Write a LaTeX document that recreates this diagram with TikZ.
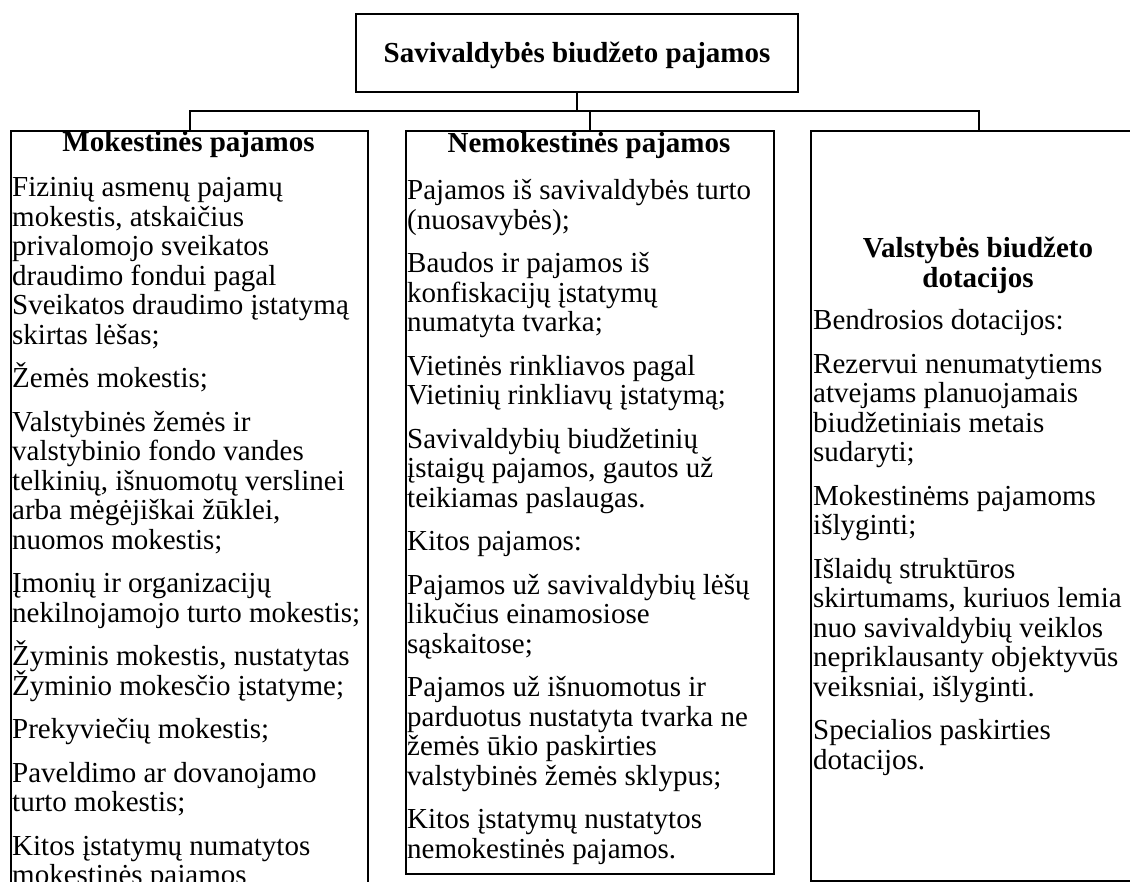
\documentclass[tikz,border=0pt]{standalone}
\usepackage{fontspec}
\setmainfont{Liberation Serif}
% extra space between two items of a list
\newcommand\itemgap{\\[14pt]}
% top-aligned block of lines, first baseline = node base
\newcommand\lines[2]{\parbox[t]{#1}{\raggedright\lineskiplimit=-100pt\relax #2}}
\begin{document}
\begin{tikzpicture}[x=1pt,y=-1pt,
  panel/.style={draw, line width=2.2pt, rectangle, inner sep=0pt, anchor=north west},
  wire/.style={line width=2pt},
  hdr/.style={font=\bfseries\fontsize{29}{29.5}\selectfont, inner sep=0pt, anchor=base},
  body/.style={font=\fontsize{29}{29.5}\selectfont, inner sep=0pt, anchor=base west}]
\useasboundingbox (0,0) rectangle (1130,882);
\clip (0,0) rectangle (1130,882);

% root
\node[draw, line width=2.2pt, minimum width=442pt, minimum height=78pt,
      text height=19.5pt, text depth=0pt, inner sep=0pt,
      font=\bfseries\fontsize{29}{29.5}\selectfont] (title) at (577,53)
  {Savivaldybės biudžeto pajamos};

% three branches
\node[panel, minimum width=357pt, minimum height=800pt] (leftbox) at (10,130) {};
\node[panel, minimum width=368pt, minimum height=743pt] (midbox) at (405,130) {};
\node[panel, minimum width=336pt, minimum height=750pt] (rightbox) at (810,130) {};

% connectors
\coordinate (bus) at (0,111);
\draw[wire] (title.south) -- (title.south |- bus);
\draw[wire] (leftbox.north) -- (leftbox.north |- bus) -- (rightbox.north |- bus) -- (rightbox.north);
\draw[wire] (midbox.north |- bus) -- (midbox.north);

% tax revenue
\node[hdr] (lefthead) at (188.5,152) {Mokestinės pajamos};
\node[body] (lefttext) at (12,197) {\lines{400pt}{%
Fizinių asmenų pajamų\\
mokestis, atskaičius\\
privalomojo sveikatos\\
draudimo fondui pagal\\
Sveikatos draudimo įstatymą\\
skirtas lėšas;\itemgap
Žemės mokestis;\itemgap
Valstybinės žemės ir\\
valstybinio fondo vandes\\
telkinių, išnuomotų verslinei\\
arba mėgėjiškai žūklei,\\
nuomos mokestis;\itemgap
Įmonių ir organizacijų\\
nekilnojamojo turto mokestis;\itemgap
Žyminis mokestis, nustatytas\\
Žyminio mokesčio įstatyme;\itemgap
Prekyviečių mokestis;\itemgap
Paveldimo ar dovanojamo\\
turto mokestis;\itemgap
Kitos įstatymų numatytos\\
mokestinės pajamos}};

% non-tax revenue
\node[hdr] (midhead) at (589,153) {Nemokestinės pajamos};
\node[body] (midtext) at (407,200) {\lines{400pt}{%
Pajamos iš savivaldybės turto\\
(nuosavybės);\itemgap
Baudos ir pajamos iš\\
konfiskacijų įstatymų\\
numatyta tvarka;\itemgap
Vietinės rinkliavos pagal\\
Vietinių rinkliavų įstatymą;\itemgap
Savivaldybių biudžetinių\\
įstaigų pajamos, gautos už\\
teikiamas paslaugas.\itemgap
Kitos pajamos:\itemgap
Pajamos už savivaldybių lėšų\\
likučius einamosiose\\
sąskaitose;\itemgap
Pajamos už išnuomotus ir\\
parduotus nustatyta tvarka ne\\
žemės ūkio paskirties\\
valstybinės žemės sklypus;\itemgap
Kitos įstatymų nustatytos\\
nemokestinės pajamos.}};

% state budget grants
\node[hdr] (righthead) at (978,258)
  {\parbox[t]{330pt}{\centering\lineskiplimit=-100pt\relax Valstybės biudžeto\\dotacijos}};
\node[body] (righttext) at (813,330) {\lines{400pt}{%
Bendrosios dotacijos:\itemgap
Rezervui nenumatytiems\\
atvejams planuojamais\\
biudžetiniais metais\\
sudaryti;\itemgap
Mokestinėms pajamoms\\
išlyginti;\itemgap
Išlaidų struktūros\\
skirtumams, kuriuos lemia\\
nuo savivaldybių veiklos\\
nepriklausanty objektyvūs\\
veiksniai, išlyginti.\itemgap
Specialios paskirties\\
dotacijos.}};
\end{tikzpicture}
\end{document}
